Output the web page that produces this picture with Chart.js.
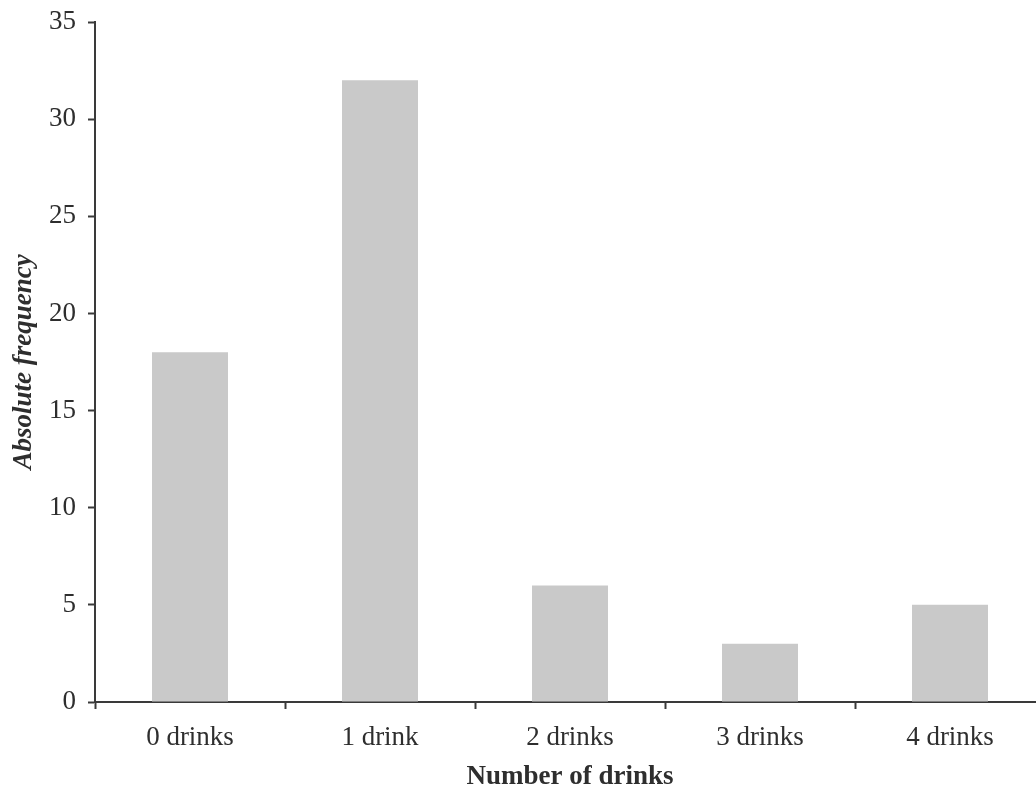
<!DOCTYPE html>
<html>
<head>
<meta charset="utf-8">
<script src="https://cdn.jsdelivr.net/npm/chart.js@4/dist/chart.umd.min.js"></script>
<style>
  html, body { margin: 0; padding: 0; background: #ffffff; overflow: hidden; }
  #wrap { width: 1046px; height: 791px; }
</style>
</head>
<body>
<div id="wrap"><canvas id="c" width="1046" height="791"></canvas></div>
<script>
// Frequency of number of drinks
const categories = ['0 drinks', '1 drink', '2 drinks', '3 drinks', '4 drinks'];
const frequencies = [18, 32, 6, 3, 5];
const yTicks = [0, 5, 10, 15, 20, 25, 30, 35];

const axisColor = '#3a3a3a';
const textColor = '#2e2e2e';
const serif = "'Liberation Serif', 'Times New Roman', serif";

new Chart(document.getElementById('c'), {
  type: 'bar',
  data: {
    labels: categories,
    datasets: [{
      data: frequencies,
      backgroundColor: '#c9c9c9',
      borderWidth: 0,
      barPercentage: 0.4,
      categoryPercentage: 1.0
    }]
  },
  options: {
    responsive: false,
    animation: false,
    layout: { padding: { top: 22, right: 1, bottom: 0, left: 0 } },
    plugins: { legend: { display: false }, tooltip: { enabled: false } },
    scales: {
      x: {
        border: { display: true, color: axisColor, width: 2 },
        grid: { drawOnChartArea: false, drawTicks: true, tickLength: 7, tickWidth: 2, tickColor: axisColor, offset: true },
        ticks: { color: textColor, font: { family: serif, size: 27 }, padding: 13 },
        title: { display: true, text: 'Number of drinks', color: textColor, font: { family: serif, size: 27, weight: 'bold' }, padding: { top: 4, bottom: -2 } },
        afterFit: (s) => { s.height = 89; s.paddingLeft = 0; s.paddingRight = 0; }
      },
      y: {
        min: 0, max: 35,
        afterBuildTicks: (s) => { s.ticks = yTicks.map(v => ({ value: v })); },
        border: { display: true, color: axisColor, width: 2 },
        grid: { drawOnChartArea: false, drawTicks: true, tickLength: 7, tickWidth: 2, tickColor: axisColor },
        ticks: { color: textColor, font: { family: serif, size: 27 }, padding: 12 },
        title: { display: true, text: 'Absolute frequency', color: textColor, font: { family: serif, size: 27, weight: 'bold', style: 'italic' }, padding: { top: 8, bottom: 4 } },
        afterFit: (s) => { s.width = 95; s.paddingTop = 0; s.paddingBottom = 0; }
      }
    }
  }
});
</script>
</body>
</html>
